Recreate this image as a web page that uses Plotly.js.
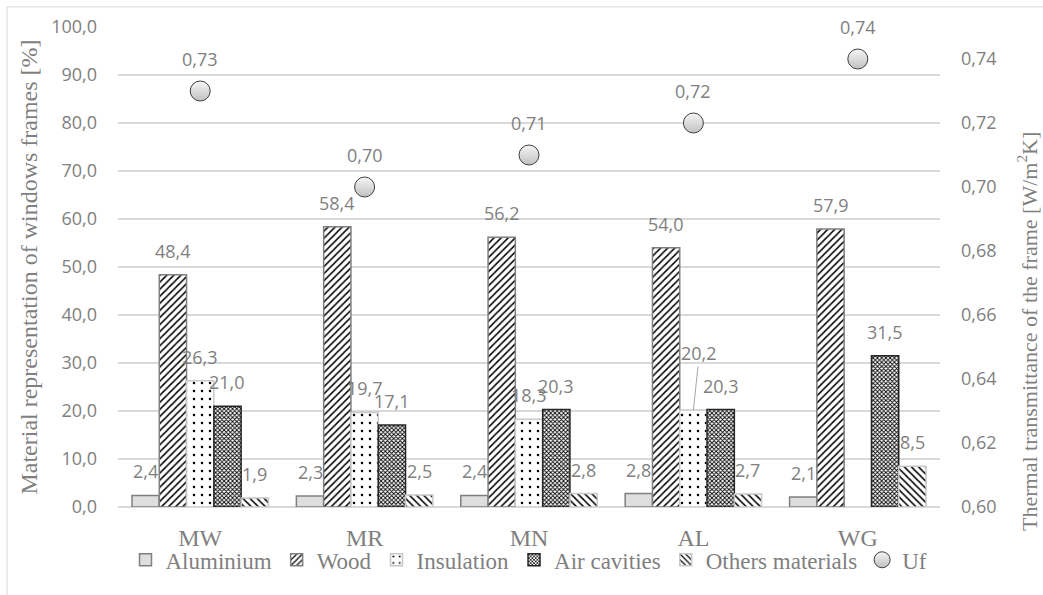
<!DOCTYPE html>
<html>
<head>
<meta charset="utf-8">
<script src="https://cdn.plot.ly/plotly-3.0.1.min.js"></script>
<style>html,body{margin:0;padding:0;background:#fff;}#chart{width:1043px;height:595px;}</style>
</head>
<body>
<div id="chart"></div>
<script>
const categories = ["MW", "MR", "MN", "AL", "WG"];
const aluminium = [2.4, 2.3, 2.4, 2.8, 2.1];
const wood = [48.4, 58.4, 56.2, 54.0, 57.9];
const insulation = [26.3, 19.7, 18.3, 20.2, null];
const airCavities = [21.0, 17.1, 20.3, 20.3, 31.5];
const othersMaterials = [1.9, 2.5, 2.8, 2.7, 8.5];
const uf = [0.73, 0.70, 0.71, 0.72, 0.74];
const seriesNames = ["Aluminium", "Wood", "Insulation", "Air cavities", "Others materials", "Uf"];

const gray = "#7f7f7f";
const sans = "Open Sans, sans-serif";
const serif = "Liberation Serif, Times New Roman, serif";
const labelFont = {family: sans, size: 18, color: gray};
const bargap = 0.17;

const barSeries = [aluminium, wood, insulation, airCavities, othersMaterials];
const barMarkers = [
  {color: "#dedede", line: {color: "#808080", width: 1.5}},
  {color: "#ffffff", line: {color: "#808080", width: 1.5},
    pattern: {shape: "/", fgcolor: "#000000", bgcolor: "#ffffff", size: 5, solidity: 0.3}},
  {color: "#ffffff", line: {color: "#c8c8c8", width: 1.5},
    pattern: {shape: ".", fgcolor: "#000000", bgcolor: "#ffffff", size: 8, solidity: 0.08}},
  {color: "#ffffff", line: {color: "#262626", width: 1.5},
    pattern: {shape: "x", fgcolor: "#000000", bgcolor: "#ffffff", size: 3, solidity: 0.5}},
  {color: "#ffffff", line: {color: "#c8c8c8", width: 1.5},
    pattern: {shape: "\\", fgcolor: "#000000", bgcolor: "#ffffff", size: 5, solidity: 0.3}}
];

const traces = barSeries.map((vals, k) => ({
  type: "bar", name: seriesNames[k], x: categories, y: vals,
  marker: barMarkers[k], hoverinfo: "x+y+name"
}));
traces.push({
  type: "scatter", mode: "markers", name: seriesNames[5], x: categories, y: uf, yaxis: "y2",
  marker: {symbol: "circle", size: 20, color: "#f6f6f6", gradient: {type: "vertical", color: "#c0c0c0"},
    line: {color: "#404040", width: 1}},
  cliponaxis: false
});

// data labels, anchored on each bar / point through the axes
const annotations = [];
const barW = (1 - bargap) / barSeries.length;
const leader = {series: 2, category: 3, ax: 6, ay: -57}; // Excel moved this label up with a leader line
barSeries.forEach((vals, k) => {
  vals.forEach((v, i) => {
    if (v === null) return;
    const a = {
      x: i + (k - (barSeries.length - 1) / 2) * barW, y: v, xref: "x", yref: "y",
      text: v.toFixed(1).replace(".", ","), font: labelFont,
      showarrow: false, yanchor: "middle", yshift: 24
    };
    if (k === leader.series && i === leader.category) {
      Object.assign(a, {showarrow: true, arrowhead: 0, arrowwidth: 1, arrowcolor: "#a6a6a6",
        ax: leader.ax, ay: leader.ay, yshift: 0, standoff: 0});
    }
    annotations.push(a);
  });
});
uf.forEach((v, i) => {
  annotations.push({x: i, y: v, xref: "x", yref: "y2", text: v.toFixed(2).replace(".", ","),
    font: labelFont, showarrow: false, yanchor: "middle", yshift: 32});
});
annotations.push({
  text: "Thermal transmittance of the frame [W/m<sup>2</sup>K]", textangle: -90,
  xref: "paper", yref: "paper", x: 1.106, y: 0.365, xanchor: "center", yanchor: "middle",
  showarrow: false, font: {family: serif, size: 22, color: gray}
});

const layout = {
  width: 1043, height: 595,
  margin: {l: 118, r: 103, t: 27, b: 88},
  paper_bgcolor: "#ffffff", plot_bgcolor: "#ffffff",
  separators: ",.",
  barmode: "group", bargap: bargap, bargroupgap: 0,
  showlegend: true,
  legend: {orientation: "h", x: 0.5, xanchor: "center", y: -0.11, yanchor: "middle",
    bgcolor: "rgba(0,0,0,0)",
    font: {family: serif, size: 23, color: gray}, itemwidth: 30, traceorder: "normal"},
  xaxis: {type: "category", showgrid: false, zeroline: false, showline: false, ticks: "",
    tickfont: {family: serif, size: 24, color: gray}, ticklabelstandoff: 14},
  yaxis: {range: [0, 100], dtick: 10, tickformat: ".1f", showgrid: true, gridcolor: "#d9d9d9", gridwidth: 1.5,
    zeroline: true, zerolinecolor: "#d9d9d9", zerolinewidth: 1.5, showline: false, ticks: "",
    tickfont: {family: sans, size: 18, color: gray}, ticklabelstandoff: 20,
    title: {text: "Material representation of windows frames [%]", font: {family: serif, size: 24, color: gray}, standoff: 6}},
  yaxis2: {range: [0.6, 0.75], dtick: 0.02, tick0: 0.6, tickformat: ".2f", overlaying: "y", side: "right",
    showgrid: false, zeroline: false, showline: false, ticks: "",
    tickfont: {family: sans, size: 18, color: gray}, ticklabelstandoff: 20},
  annotations: annotations,
  shapes: [
    {type: "line", xref: "paper", yref: "paper", x0: -0.135, x1: 1.13, y0: 1.042, y1: 1.042, line: {color: "#d9d9d9", width: 1}},
    {type: "line", xref: "paper", yref: "paper", x0: -0.135, x1: -0.135, y0: 1.042, y1: -0.19, line: {color: "#d9d9d9", width: 1}}
  ]
};

Plotly.newPlot("chart", traces, layout, {displayModeBar: false, staticPlot: true});
</script>
</body>
</html>
